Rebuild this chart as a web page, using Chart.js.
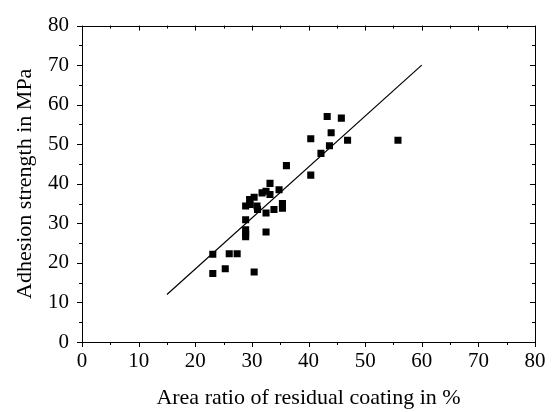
<!DOCTYPE html>
<html>
<head>
<meta charset="utf-8">
<script src="https://cdn.jsdelivr.net/npm/chart.js@4"></script>
<style>
  html, body { margin: 0; padding: 0; background: #fff; }
  #wrap { width: 554px; height: 412px; }
</style>
</head>
<body>
<div id="wrap"><canvas id="chart" width="554" height="412"></canvas></div>
<script>
// residual coating area ratio (%) vs adhesion strength (MPa)
const areaRatio = [23.1, 23.1, 25.3, 26.0, 27.4, 30.4, 28.9, 28.9, 28.9, 28.9, 32.5,
  28.9, 29.6, 30.4, 29.7, 30.9, 31.0, 31.8, 32.5, 33.2, 33.2, 32.5, 33.9, 34.8,
  35.4, 35.4, 36.1, 40.4, 40.4, 42.2, 43.7, 44.0, 43.3, 45.8, 46.9, 55.8];
const strength = [22.2, 17.3, 18.5, 22.3, 22.3, 17.7, 30.9, 28.4, 27.3, 26.6, 27.8,
  34.4, 36.0, 36.6, 34.8, 34.4, 33.5, 37.7, 38.1, 37.3, 40.1, 32.6, 33.5, 38.5,
  35.0, 33.8, 44.6, 42.2, 51.4, 47.7, 49.6, 52.9, 57.0, 56.6, 51.0, 51.0];

// fitted line end points
const fitX = [15, 60];
const fitY = [12, 70];

const axisTicks = [0, 5, 10, 15, 20, 25, 30, 35, 40, 45, 50, 55, 60, 65, 70, 75, 80];

const points = areaRatio.map((x, i) => ({ x: x, y: strength[i] }));
const fitLine = fitX.map((x, i) => ({ x: x, y: fitY[i] }));

const FONT = 'Liberation Serif';

// frame + tick marks like the original plot (outward on left/bottom, inward on top/right)
const framePlugin = {
  id: 'frame',
  afterDraw(chart) {
    const ctx = chart.ctx;
    const a = chart.chartArea;
    const xs = chart.scales.x;
    const ys = chart.scales.y;
    ctx.save();
    ctx.strokeStyle = '#000';
    ctx.lineWidth = 1;
    ctx.strokeRect(Math.round(a.left) + 0.5, Math.round(a.top) + 0.5,
      Math.round(a.right - a.left), Math.round(a.bottom - a.top));
    ctx.beginPath();
    axisTicks.forEach(v => {
      const len = v % 10 === 0 ? 5 : 3;
      const px = Math.round(xs.getPixelForValue(v)) + 0.5;
      const py = Math.round(ys.getPixelForValue(v)) + 0.5;
      ctx.moveTo(px, a.bottom); ctx.lineTo(px, a.bottom + len);
      ctx.moveTo(px, a.top); ctx.lineTo(px, a.top + len);
      ctx.moveTo(a.left, py); ctx.lineTo(a.left - len, py);
      ctx.moveTo(a.right, py); ctx.lineTo(a.right - len, py);
    });
    ctx.stroke();
    ctx.restore();
  }
};

new Chart(document.getElementById('chart'), {
  type: 'scatter',
  data: {
    datasets: [
      {
        label: 'measured',
        data: points,
        pointStyle: 'rect',
        pointRadius: 5,
        pointHoverRadius: 5,
        backgroundColor: '#000',
        borderColor: '#000',
        borderWidth: 0
      },
      {
        label: 'fit',
        data: fitLine,
        showLine: true,
        pointRadius: 0,
        borderColor: '#000',
        borderWidth: 1.2,
        fill: false
      }
    ]
  },
  options: {
    responsive: false,
    animation: false,
    layout: { padding: { left: 0, right: 19, top: 15, bottom: 0 } },
    plugins: {
      legend: { display: false },
      tooltip: { enabled: false }
    },
    scales: {
      x: {
        type: 'linear',
        min: 0,
        max: 80,
        afterFit: (scale) => { scale.height = 70; },
        afterBuildTicks: (scale) => { scale.ticks = axisTicks.filter(v => v % 10 === 0).map(v => ({ value: v })); },
        grid: { display: false, drawTicks: false },
        border: { display: false },
        ticks: {
          color: '#000',
          padding: 7,
          maxRotation: 0,
          autoSkip: false,
          font: { family: FONT, size: 21 }
        },
        title: {
          display: true,
          text: 'Area ratio of residual coating in %',
          color: '#000',
          font: { family: FONT, size: 22 },
          padding: { top: 0, bottom: 1 }
        }
      },
      y: {
        type: 'linear',
        min: 0,
        max: 80,
        afterFit: (scale) => { scale.width = 82; },
        afterBuildTicks: (scale) => { scale.ticks = axisTicks.filter(v => v % 10 === 0).map(v => ({ value: v })); },
        grid: { display: false, drawTicks: false },
        border: { display: false },
        ticks: {
          color: '#000',
          padding: 13,
          autoSkip: false,
          font: { family: FONT, size: 21 }
        },
        title: {
          display: true,
          text: 'Adhesion strength in MPa',
          color: '#000',
          font: { family: FONT, size: 22 },
          padding: { top: 12, bottom: 0 }
        }
      }
    }
  },
  plugins: [framePlugin]
});
</script>
</body>
</html>
